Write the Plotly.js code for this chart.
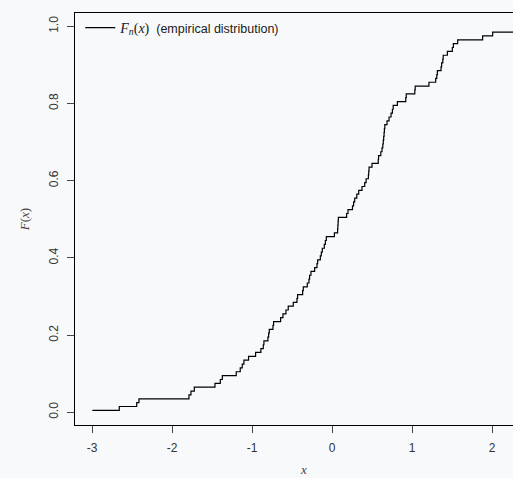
<!DOCTYPE html>
<html>
<head>
<meta charset="utf-8">
<script src="https://cdn.plot.ly/plotly-3.0.1.min.js"></script>
<style>
  html, body { margin: 0; padding: 0; background: #f8f9fb; }
  #chart { width: 513px; height: 478px; }
</style>
</head>
<body>
<div id="chart"></div>
<script>
// Sorted sample values (x positions of the ECDF jumps)
const sampleX = [
  -2.996, -2.659, -2.441, -2.413, -1.788, -1.763, -1.721, -1.463, -1.396, -1.371,
  -1.197, -1.147, -1.122, -1.101, -1.043, -0.955, -0.889, -0.859, -0.851, -0.801,
  -0.792, -0.784, -0.738, -0.730, -0.642, -0.613, -0.576, -0.547, -0.484, -0.438,
  -0.430, -0.367, -0.359, -0.309, -0.288, -0.280, -0.263, -0.217, -0.188, -0.179,
  -0.146, -0.134, -0.121, -0.096, -0.083, -0.071, 0.030, 0.070, 0.073, 0.076,
  0.079, 0.183, 0.200, 0.256, 0.270, 0.284, 0.310, 0.334, 0.375, 0.409,
  0.426, 0.455, 0.459, 0.463, 0.500, 0.578, 0.582, 0.610, 0.625, 0.635,
  0.641, 0.646, 0.651, 0.655, 0.660, 0.688, 0.713, 0.738, 0.755, 0.765,
  0.817, 0.922, 0.928, 1.035, 1.040, 1.212, 1.296, 1.310, 1.317, 1.363,
  1.370, 1.385, 1.390, 1.442, 1.504, 1.517, 1.571, 1.883, 2.008, 2.310
];
// Empirical distribution levels reached at each jump
const levelsF = [
  0.005, 0.015, 0.025, 0.035, 0.045, 0.055, 0.065, 0.075, 0.085, 0.095,
  0.105, 0.115, 0.125, 0.135, 0.145, 0.155, 0.165, 0.175, 0.185, 0.195,
  0.205, 0.215, 0.225, 0.235, 0.245, 0.255, 0.265, 0.275, 0.285, 0.295,
  0.305, 0.315, 0.325, 0.335, 0.345, 0.355, 0.365, 0.375, 0.385, 0.395,
  0.405, 0.415, 0.425, 0.435, 0.445, 0.455, 0.465, 0.475, 0.485, 0.495,
  0.505, 0.515, 0.525, 0.535, 0.545, 0.555, 0.565, 0.575, 0.585, 0.595,
  0.605, 0.615, 0.625, 0.635, 0.645, 0.655, 0.665, 0.675, 0.685, 0.695,
  0.705, 0.715, 0.725, 0.735, 0.745, 0.755, 0.765, 0.775, 0.785, 0.795,
  0.805, 0.815, 0.825, 0.835, 0.845, 0.855, 0.865, 0.875, 0.885, 0.895,
  0.905, 0.915, 0.925, 0.935, 0.945, 0.955, 0.965, 0.975, 0.985, 0.995
];
const xTicks = [-3, -2, -1, 0, 1, 2];
const xTickLabels = ['-3', '-2', '-1', '0', '1', '2'];
const yTicks = [0, 0.2, 0.4, 0.6, 0.8, 1.0];
const yTickLabels = ['0.0', '0.2', '0.4', '0.6', '0.8', '1.0'];
const seriesName = '<span style="font-family:\'Liberation Serif\';font-size:14px"><i>F<sub>n</sub></i>(<i>x</i>)</span>  (empirical distribution)';

const bg = '#f8f9fb';
const trace = {
  x: sampleX,
  y: levelsF,
  type: 'scatter',
  mode: 'lines',
  name: seriesName,
  line: { shape: 'hv', color: '#000000', width: 1.2 },
  hoverinfo: 'skip'
};

const layout = {
  width: 513,
  height: 478,
  paper_bgcolor: bg,
  plot_bgcolor: bg,
  margin: { l: 75, r: 0, t: 13, b: 53 },
  font: { family: 'Liberation Sans, Arial, sans-serif', size: 12, color: '#333' },
  showlegend: true,
  legend: {
    x: 0.012, y: 1.0, xanchor: 'left', yanchor: 'top',
    bgcolor: 'rgba(0,0,0,0)', borderwidth: 0,
    font: { size: 12.5, color: '#1a1a1a' }
  },
  xaxis: {
    range: [-3.2125, 2.2625],
    tickmode: 'array', tickvals: xTicks, ticktext: xTickLabels,
    ticks: 'outside', ticklen: 7, tickwidth: 1, tickcolor: '#444',
    showgrid: false, zeroline: false,
    showline: true, linecolor: '#000', linewidth: 1.2, mirror: true,
    ticklabelstandoff: 4,
    tickfont: { size: 12, color: '#333' },
    fixedrange: true
  },
  yaxis: {
    range: [-0.0329, 1.0344],
    tickmode: 'array', tickvals: yTicks, ticktext: yTickLabels,
    tickangle: -90,
    ticks: 'outside', ticklen: 7, tickwidth: 1, tickcolor: '#444',
    showgrid: false, zeroline: false,
    showline: true, linecolor: '#000', linewidth: 1.2, mirror: false,
    ticklabelstandoff: 4,
    tickfont: { size: 12, color: '#333' },
    title: {
      text: '<i>F</i>(<i>x</i>)',
      font: { family: 'Liberation Serif, serif', size: 13, color: '#444' },
      standoff: 14
    },
    fixedrange: true
  },
  annotations: [{
    text: '<i>x</i>',
    xref: 'paper', yref: 'paper',
    x: (303 - 75) / 438, y: -0.108,
    xanchor: 'center', yanchor: 'middle',
    showarrow: false,
    font: { family: 'Liberation Serif, serif', size: 13, color: '#444' }
  }]
};

Plotly.newPlot('chart', [trace], layout, { displayModeBar: false, staticPlot: true });
</script>
</body>
</html>
